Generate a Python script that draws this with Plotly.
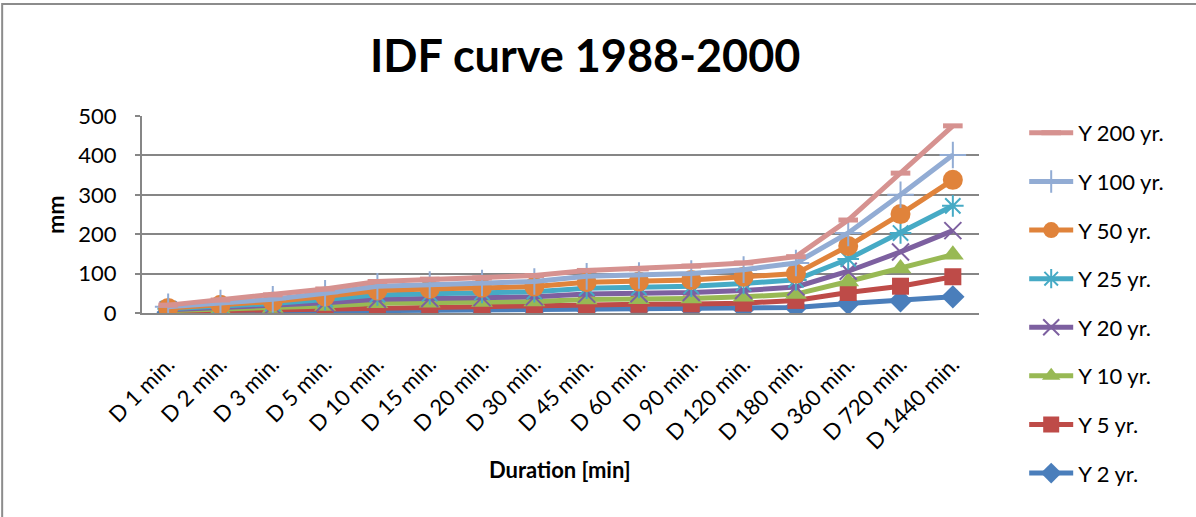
import plotly.graph_objects as go

durations = ["D 1 min.", "D 2 min.", "D 3 min.", "D 5 min.", "D 10 min.", "D 15 min.",
             "D 20 min.", "D 30 min.", "D 45 min.", "D 60 min.", "D 90 min.", "D 120 min.",
             "D 180 min.", "D 360 min.", "D 720 min.", "D 1440 min."]

y2 = [2, 3, 4, 5, 7, 7, 8, 8, 9, 10, 10, 11, 14, 24, 31, 41]
y5 = [4, 6, 8, 11, 15, 16, 17, 18, 21, 22, 23, 25, 32, 52, 68, 92]
y10 = [6, 9, 13, 18, 25, 26, 28, 29, 34, 35, 37, 41, 48, 80, 113, 148]
y20 = [8, 13, 18, 26, 35, 37, 39, 41, 48, 49, 52, 57, 66, 106, 155, 209]
y25 = [11, 17, 24, 34, 46, 49, 52, 54, 63, 65, 68, 75, 84, 137, 203, 272]
y50 = [13, 21, 29, 42, 57, 61, 64, 67, 78, 80, 84, 92, 100, 170, 251, 338]
y100 = [16, 25, 35, 50, 68, 72, 76, 80, 93, 95, 100, 110, 127, 203, 300, 401]
y200 = [20, 33, 46, 61, 80, 86, 89, 95, 108, 112, 119, 127, 143, 236, 355, 475]

series_names = ["Y 2 yr.", "Y 5 yr.", "Y 10 yr.", "Y 20 yr.", "Y 25 yr.", "Y 50 yr.", "Y 100 yr.", "Y 200 yr."]
series_values = [y2, y5, y10, y20, y25, y50, y100, y200]

colors = ["#4A7EBB", "#BE4B48", "#98B954", "#7D60A0", "#46AAC5", "#E0833B", "#92ACD4", "#D69290"]
symbols = ["diamond", "square", "triangle-up", "x-thin", "asterisk", "circle", "cross-thin", "line-ew"]
sizes = [18, 17, 19, 17, 18, 20, 19, 14]

FONT = "Lato"
GRID = "#868686"

fig = go.Figure()
n = len(series_names)
for i, (name, vals, col, sym, sz) in enumerate(zip(series_names, series_values, colors, symbols, sizes)):
    if sym == "line-ew":
        mline = dict(color=col, width=5)
    elif sym in ("x-thin", "asterisk", "cross-thin"):
        mline = dict(color=col, width=2)
    else:
        mline = dict(color=col, width=0)
    # longest return period first in the legend, drawn last on the plot
    fig.add_trace(go.Scatter(
        x=durations, y=vals, name=name, mode="lines+markers",
        legendgroup=name, legendrank=n - i,
        line=dict(color=col, width=5),
        marker=dict(symbol=sym, size=sz, color=col, line=mline),
    ))

fig.update_layout(
    width=1196, height=517,
    margin=dict(l=142, r=217, t=116, b=204),
    paper_bgcolor="white", plot_bgcolor="white",
    font=dict(family=FONT, color="black", size=22),
    showlegend=True,
    legend=dict(
        traceorder="grouped", x=1.054, y=1.02, xanchor="left", yanchor="top",
        font=dict(family=FONT, size=22, color="black"),
        tracegroupgap=17, itemwidth=44, maxheight=500,
        bgcolor="rgba(0,0,0,0)",
    ),
    xaxis=dict(
        type="category", range=[-0.5, 15.5],
        tickangle=-45, tickfont=dict(family=FONT, size=22),
        showline=True, linecolor=GRID, linewidth=2,
        showgrid=False, ticks="", ticklabelstandoff=28,
    ),
    yaxis=dict(
        range=[0, 500], tickvals=[0, 100, 200, 300, 400, 500],
        tickfont=dict(family=FONT, size=22),
        showline=True, linecolor=GRID, linewidth=2,
        showgrid=True, gridcolor=GRID, gridwidth=2,
        ticks="outside", ticklen=5, tickcolor=GRID, tickwidth=2,
        ticklabelstandoff=14, zeroline=False,
    ),
    annotations=[
        dict(text="<b>IDF curve 1988-2000</b>", xref="paper", yref="paper",
             x=(586 - 142) / 838, y=(313 - 55) / 197, xanchor="center", yanchor="middle",
             showarrow=False, font=dict(family=FONT, size=45, color="black")),
        dict(text="<b>Duration [min]</b>", xref="paper", yref="paper",
             x=(560 - 142) / 838, y=(313 - 470) / 197, xanchor="center", yanchor="middle",
             showarrow=False, font=dict(family=FONT, size=22, color="black")),
        dict(text="<b>mm</b>", xref="paper", yref="paper", textangle=-90,
             x=(55 - 142) / 838, y=(313 - 215) / 197, xanchor="center", yanchor="middle",
             showarrow=False, font=dict(family=FONT, size=23, color="black")),
    ],
    shapes=[
        dict(type="rect", xref="paper", yref="paper",
             x0=(2 - 142) / 838, x1=(1210 - 142) / 838,
             y0=(313 - 530) / 197, y1=(313 - 4) / 197,
             line=dict(color="#8C8C8C", width=2), fillcolor="rgba(0,0,0,0)", layer="below"),
    ],
)

fig.write_html("out.html")
